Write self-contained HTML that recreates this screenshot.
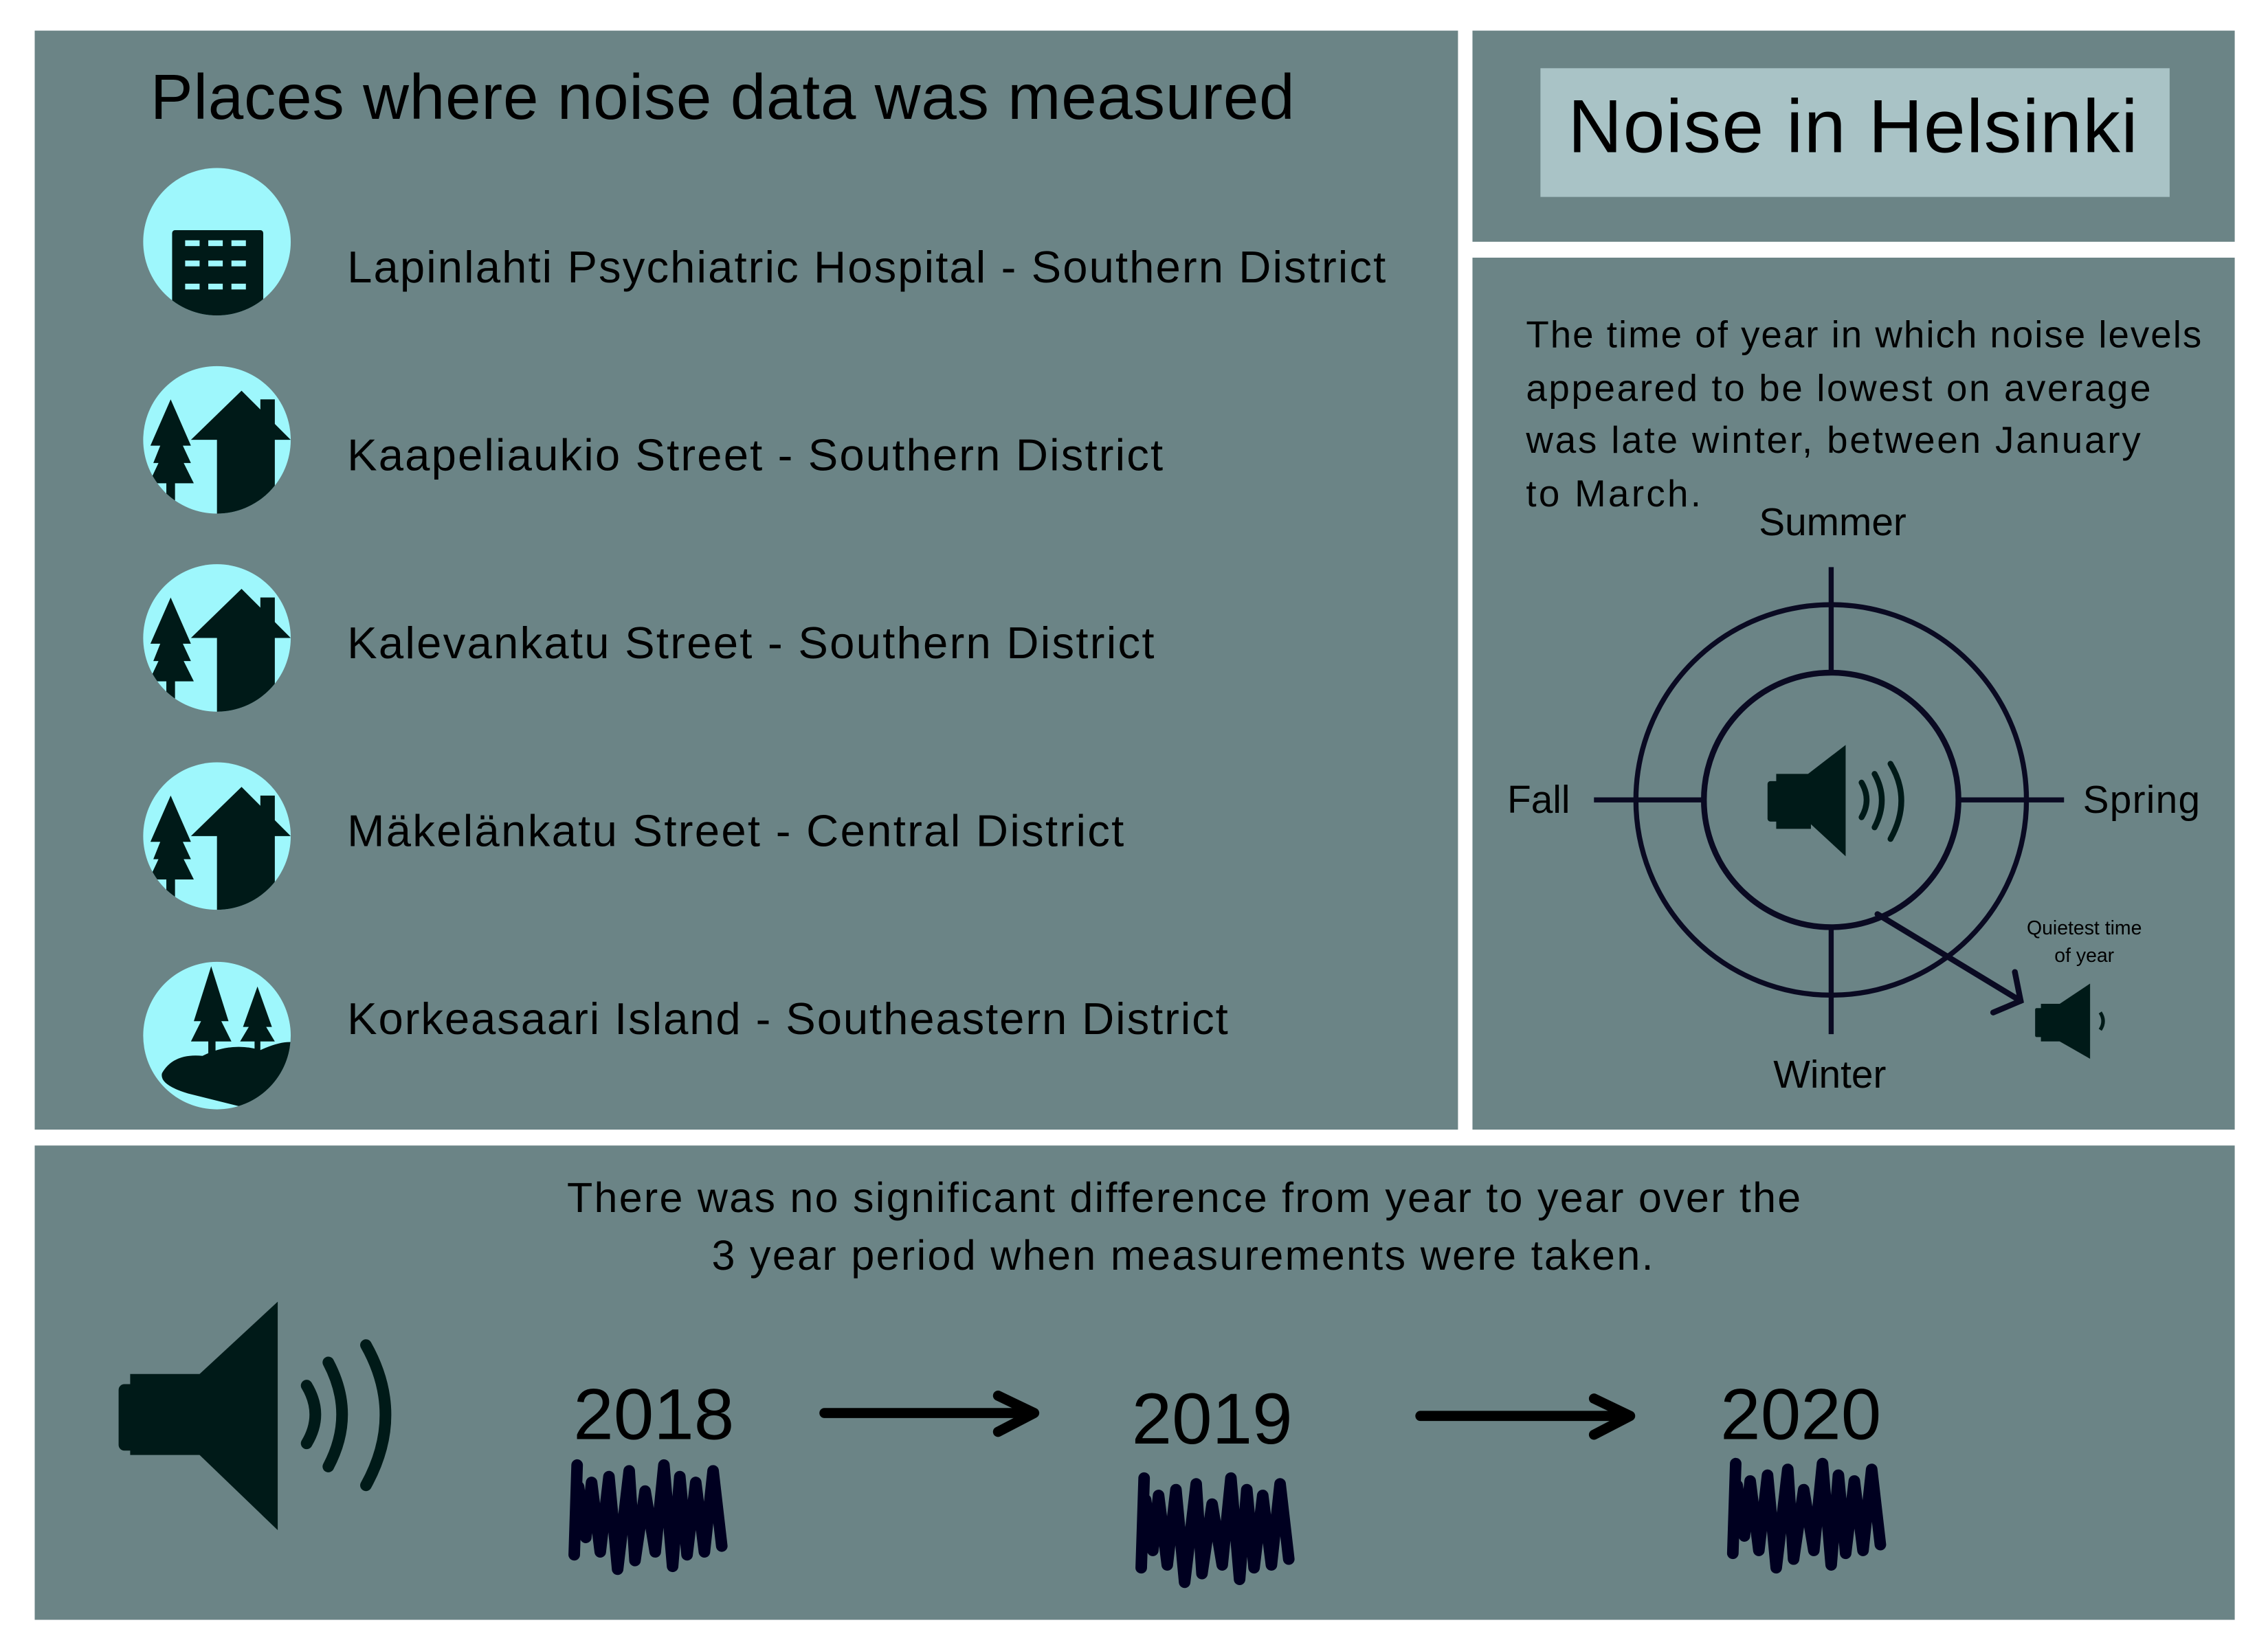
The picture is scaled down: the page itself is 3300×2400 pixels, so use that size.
<!DOCTYPE html>
<html><head><meta charset="utf-8"><style>
html,body{margin:0;padding:0;background:#fff}
svg{display:block}
text{font-family:"Liberation Sans",sans-serif}
</style></head><body>
<svg width="3300" height="2400" viewBox="0 0 1568 1140" xmlns="http://www.w3.org/2000/svg">
<rect width="1568" height="1140" fill="#fff"/>
<g fill="#6b8486">
<rect x="24" y="21" width="984" height="760"/>
<rect x="1018" y="21" width="527" height="146"/>
<rect x="1018" y="178" width="527" height="603"/>
<rect x="24" y="792" width="1521" height="328"/>
</g>
<text x="104" y="82" font-size="44" fill="#000" textLength="791">Places where noise data was measured</text>
<defs>
<clipPath id="c1"><circle cx="0" cy="0" r="51"/></clipPath>
<g id="house">
<circle r="51" fill="#9ef7fc"/>
<g clip-path="url(#c1)" fill="#001a18">
<path d="M-46 4 L-32 -28 L-18 4 Z M-44 16 L-32 -14 L-18 16 Z M-47 30 L-32 -2 L-16 30Z"/>
<rect x="-35" y="28" width="6" height="25"/>
<path d="M-18 0 L17 -34 L51 0 L40 0 L40 60 L0 60 L0 0 Z"/>
<rect x="30" y="-28" width="10" height="20"/>
</g></g>
</defs>
<g transform="translate(150,167)">
<circle r="51" fill="#9ef7fc"/>
<g clip-path="url(#c1)"><rect x="-31" y="-8" width="63" height="70" rx="2" fill="#001a18"/>
<g fill="#9ef7fc"><rect x="-22" y="-1" width="10" height="4"/><rect x="-6" y="-1" width="10" height="4"/><rect x="10" y="-1" width="10" height="4"/>
<rect x="-22" y="13" width="10" height="4"/><rect x="-6" y="13" width="10" height="4"/><rect x="10" y="13" width="10" height="4"/>
<rect x="-22" y="29" width="10" height="4"/><rect x="-6" y="29" width="10" height="4"/><rect x="10" y="29" width="10" height="4"/></g></g>
</g>
<use href="#house" x="150" y="304"/>
<use href="#house" x="150" y="441"/>
<use href="#house" x="150" y="578"/>
<g transform="translate(150,716)">
<circle r="51" fill="#9ef7fc"/>
<g clip-path="url(#c1)" fill="#001a18">
<path d="M-4 -48 L-16 -10 L-11 -10 L-18 4 L10 4 L3 -10 L8 -10 Z"/><rect x="-6" y="0" width="5" height="14"/>
<path d="M28 -34 L18 -6 L22 -6 L16 4 L40 4 L34 -6 L38 -6 Z"/><rect x="26" y="2" width="4" height="12"/>
<path d="M-38 26 Q-30 12 -10 14 Q10 4 30 10 Q52 0 60 8 L60 60 L-20 40 Q-40 34 -38 26Z"/>
</g></g>
<g font-size="31" fill="#000">
<text x="240" y="195" textLength="718">Lapinlahti Psychiatric Hospital - Southern District</text>
<text x="240" y="325" textLength="564">Kaapeliaukio Street - Southern District</text>
<text x="240" y="455" textLength="558">Kalevankatu Street - Southern District</text>
<text x="240" y="585" textLength="537">Mäkelänkatu Street - Central District</text>
<text x="240" y="715" textLength="609">Korkeasaari Island - Southeastern District</text>
</g>
<rect x="1065" y="47" width="435" height="89" fill="#a9c3c6"/>
<text x="1084" y="105" font-size="52" fill="#000" textLength="394">Noise in Helsinki</text>
<g font-size="26" fill="#000">
<text x="1055" y="240" textLength="467">The time of year in which noise levels</text>
<text x="1055" y="277" textLength="432">appeared to be lowest on average</text>
<text x="1055" y="313" textLength="425">was late winter, between January</text>
<text x="1055" y="350" textLength="121">to March.</text>
</g>
<g font-size="27" fill="#000">
<text x="1267" y="370" text-anchor="middle">Summer</text>
<text x="1042" y="562">Fall</text>
<text x="1440" y="562" textLength="81">Spring</text>
<text x="1265" y="752" text-anchor="middle">Winter</text>
</g>
<g stroke="#0a0a22" stroke-width="3.5" fill="none">
<circle cx="1266" cy="553" r="135"/>
<circle cx="1266" cy="553" r="88" stroke-width="4"/>
<line x1="1266" y1="392" x2="1266" y2="465"/><line x1="1266" y1="641" x2="1266" y2="715"/>
<line x1="1102" y1="553" x2="1178" y2="553"/><line x1="1354" y1="553" x2="1427" y2="553"/>
</g>
<g fill="#001a18">
<rect x="1222" y="540" width="8" height="28" rx="2"/><rect x="1228" y="535" width="24" height="38"/>
<path d="M1250 535 L1276 515 L1276 592 L1250 568 Z"/>
<g fill="none" stroke="#001a18" stroke-width="4" stroke-linecap="round"><path d="M1287 541 Q1294 553 1287 565"/><path d="M1296 535 Q1306 553 1296 572"/><path d="M1307 528 Q1322 553 1307 580"/></g>
</g>
<g stroke="#0a0a22" stroke-width="4" fill="none" stroke-linecap="round">
<line x1="1298" y1="632" x2="1397" y2="692"/><path d="M1393 672 L1397 692 L1378 700"/>
</g>
<g font-size="13.5" fill="#000" text-anchor="middle">
<text x="1441" y="646">Quietest time</text><text x="1441" y="665">of year</text></g>
<g fill="#001a18">
<rect x="1407" y="697" width="6" height="20" rx="1"/><rect x="1411" y="694" width="15" height="26"/>
<path d="M1424 694 L1445 680 L1445 732 L1424 720Z"/>
<path d="M1452 700 Q1456 706 1452 712" fill="none" stroke="#001a18" stroke-width="2.5"/>
</g>
<g font-size="29" fill="#000">
<text x="392" y="838" textLength="853">There was no significant difference from year to year over the</text>
<text x="492" y="878" textLength="651">3 year period when measurements were taken.</text></g>
<g fill="#001a18">
<rect x="82" y="957" width="14" height="46" rx="4"/><rect x="90" y="950" width="52" height="56"/>
<path d="M138 950 L192 900 L192 1058 L138 1006Z"/>
<g fill="none" stroke="#001a18" stroke-width="8" stroke-linecap="round"><path d="M212 958 Q224 978 212 998"/><path d="M227 942 Q246 978 227 1014"/><path d="M253 930 Q280 978 253 1027"/></g>
</g>
<g font-size="50" fill="#000" text-anchor="middle">
<text x="452" y="995">2018</text>
<text x="838" y="998">2019</text>
<text x="1245" y="995">2020</text>
</g>
<g stroke="#000" stroke-width="7" fill="none" stroke-linecap="round" stroke-linejoin="round">
<g><line x1="570" y1="977" x2="713" y2="977"/><path d="M690 965 L715 977 L690 990"/></g>
<g><line x1="982" y1="979" x2="1125" y2="979"/><path d="M1102 967 L1127 979 L1102 992"/></g>
</g>
<defs><path id="scrib" d="M4 0 L2 62 M5 15 L10 50 L14 12 L20 60 L26 8 L32 72 L40 4 L44 66 L51 18 L58 60 L64 0 L70 70 L75 8 L80 62 L86 12 L92 60 L98 4 L104 56"/></defs>
<g stroke="#000020" stroke-width="8" fill="none" stroke-linecap="round" stroke-linejoin="round">
<use href="#scrib" x="395" y="1013"/>
<use href="#scrib" x="787" y="1022"/>
<use href="#scrib" x="1196" y="1012"/>
</g>
</svg>
</body></html>
